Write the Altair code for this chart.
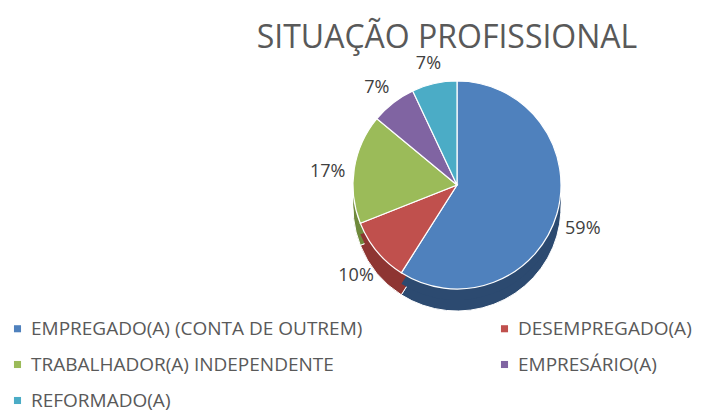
import altair as alt
import pandas as pd

categories = ["EMPREGADO(A) (CONTA DE OUTREM)", "DESEMPREGADO(A)",
              "TRABALHADOR(A) INDEPENDENTE", "EMPRESÁRIO(A)", "REFORMADO(A)"]
values = [59, 10, 17, 7, 7]
colors = ["#4F81BD", "#C0504D", "#9BBB59", "#8064A2", "#4BACC6"]
dark_colors = ["#2C4A70", "#8E3532", "#6F8A3C", "#5C4677", "#2F7E93"]
labels = ["59%", "10%", "17%", "7%", "7%"]

# legend grid fills column by column: arrange so rows read like the reference
legend_order = [0, 2, 4, 1, 3]
legend_domain = [categories[i] for i in legend_order]
legend_range = [colors[i] for i in legend_order]

df = pd.DataFrame({"cat": categories, "val": values, "lab": labels,
                   "order": list(range(len(categories)))})

FONT = "Open Sans"
cx, cy, r, depth = 449, 127, 104, 22

base = alt.Chart(df).encode(
    theta=alt.Theta("val:Q", stack=True),
    order=alt.Order("order:Q"),
)

side = base.mark_arc(outerRadius=r, stroke="white", strokeWidth=1).encode(
    x=alt.value(cx), y=alt.value(cy + depth),
    color=alt.Color("cat:N", scale=alt.Scale(domain=categories, range=dark_colors), legend=None),
)

band = base.mark_arc(outerRadius=r, innerRadius=0).encode(
    x=alt.value(cx), y=alt.value(cy + depth / 2),
    color=alt.Color("cat:N", scale=alt.Scale(domain=categories, range=dark_colors), legend=None),
)

top = base.mark_arc(outerRadius=r, stroke="white", strokeWidth=1.2).encode(
    x=alt.value(cx), y=alt.value(cy),
    color=alt.Color("cat:N", scale=alt.Scale(domain=legend_domain, range=legend_range),
                    legend=alt.Legend(title=None, orient="none", legendX=0, legendY=261,
                                      columns=2, columnPadding=132, rowPadding=16,
                                      symbolType="square", symbolSize=50,
                                      labelFont=FONT, labelFontSize=19, labelColor="#595959",
                                      labelLimit=600, symbolStrokeWidth=0)),
)

text = base.mark_text(radius=r + 27, font=FONT, fontSize=18, color="#404040").encode(
    x=alt.value(cx), y=alt.value(cy + 7),
    text="lab:N",
)

chart = alt.layer(side, band, top, text).resolve_scale(color="independent").properties(
    width=704, height=354,
    autosize=alt.AutoSizeParams(type="none"),
    padding={"left": 0, "top": 50, "right": 0, "bottom": 0},
    title=alt.TitleParams("SITUAÇÃO PROFISSIONAL", font=FONT, fontSize=32, fontWeight="normal",
                          color="#595959", anchor="middle", offset=0, dx=87),
).configure_view(stroke=None)

chart.save("out.html", embed_options={"renderer": "svg", "actions": False})
